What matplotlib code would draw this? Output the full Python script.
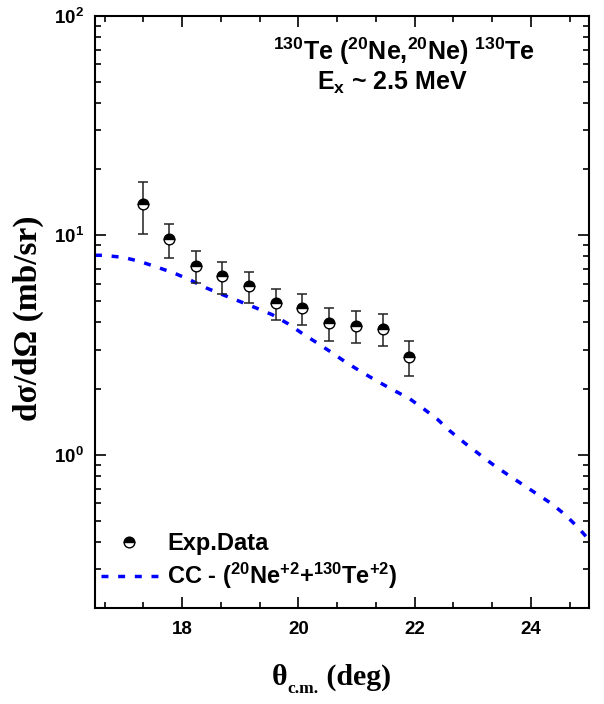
import matplotlib
matplotlib.use("Agg")
import matplotlib.pyplot as plt
from matplotlib.lines import Line2D
from matplotlib.ticker import MultipleLocator, FixedLocator, LogLocator, FuncFormatter, NullFormatter
import numpy as np

# ---------------- data ----------------
theta_exp = [17.32, 17.78, 18.23, 18.69, 19.15, 19.61, 20.07, 20.53, 20.99, 21.45, 21.90]
sigma_exp = [13.9, 9.62, 7.25, 6.49, 5.84, 4.89, 4.64, 3.99, 3.87, 3.74, 2.79]
sigma_hi = [17.5, 11.25, 8.46, 7.54, 6.77, 5.70, 5.39, 4.64, 4.51, 4.36, 3.31]
sigma_lo = [10.07, 7.88, 6.05, 5.41, 4.91, 4.09, 3.90, 3.31, 3.23, 3.12, 2.28]

theta_cc = [16.5, 16.65, 16.99, 17.27, 17.58, 17.86, 18.13, 18.42, 18.70, 18.99,
            19.27, 19.55, 19.82, 20.07, 20.32, 20.58, 20.83, 21.11, 21.37, 21.63,
            21.91, 22.15, 22.39, 22.61, 22.86, 23.10, 23.34, 23.59, 23.85, 24.11,
            24.35, 24.59, 24.81, 25.0]
sigma_cc = [8.1, 8.09, 7.92, 7.59, 7.13, 6.72, 6.26, 5.74, 5.35, 4.99,
            4.66, 4.34, 3.95, 3.56, 3.23, 2.91, 2.62, 2.36, 2.15, 1.97,
            1.80, 1.62, 1.45, 1.28, 1.13, 1.01, 0.904, 0.814, 0.733, 0.660,
            0.599, 0.532, 0.466, 0.409]

x_major = [18, 20, 22, 24]
y_major = [1, 10, 100]

label_exp = "Exp.Data"
label_cc = r"CC - ($^{20}$Ne$^{+2}$+$^{130}$Te$^{+2}$)"
title1 = r"$^{130}$Te ($^{20}$Ne,$^{20}$Ne) $^{130}$Te"
title2 = r"E$_{x}$ ~ 2.5 MeV"

# ---------------- style ----------------
plt.rcParams["font.family"] = ["Liberation Sans", "DejaVu Sans"]
plt.rcParams["font.weight"] = "bold"
plt.rcParams["mathtext.fontset"] = "custom"
plt.rcParams["mathtext.rm"] = "Liberation Sans:bold"
plt.rcParams["mathtext.it"] = "Liberation Sans:bold"
plt.rcParams["mathtext.bf"] = "Liberation Sans:bold"

W, H = 604, 704
fig = plt.figure(figsize=(W / 100, H / 100), dpi=100)
L, R, T, B = 95, 589, 15.7, 608
ax = fig.add_axes([L / W, 1 - B / H, (R - L) / W, (B - T) / H])

yerr = [np.array(sigma_exp) - np.array(sigma_lo), np.array(sigma_hi) - np.array(sigma_exp)]
ax.errorbar(theta_exp, sigma_exp, yerr=yerr, fmt="none", ecolor="#222222",
            elinewidth=1.1, capsize=3.3, capthick=1.1, zorder=3)
ax.plot(theta_exp, sigma_exp, ls="none", marker="o", ms=7.7, fillstyle="top",
        mfc="black", mfcalt="white", mec="black", mew=1.0, zorder=4)

ax.plot(theta_cc, sigma_cc, color="#0000ff", lw=2.5, dashes=(2.0, 2.8), zorder=2)

ax.set_yscale("log")
ax.set_xlim(16.5, 25.0)
ax.set_ylim(0.2, 100)

ax.xaxis.set_major_locator(FixedLocator(x_major))
ax.xaxis.set_minor_locator(MultipleLocator(2 / 3))
ax.yaxis.set_major_locator(FixedLocator(y_major))
ax.yaxis.set_minor_locator(LogLocator(base=10, subs=np.arange(2, 10)))
ax.yaxis.set_minor_formatter(NullFormatter())
ax.yaxis.set_major_formatter(FuncFormatter(lambda v, p: r"$10^{%d}$" % int(round(np.log10(v)))))
ax.xaxis.set_major_formatter(FuncFormatter(lambda v, p: "%d" % v))

ax.tick_params(which="both", direction="in", top=True, right=True, width=1.2)
ax.tick_params(which="major", length=8)
ax.tick_params(which="minor", length=4)
ax.tick_params(axis="x", labelsize=13.5, pad=9)
ax.tick_params(axis="y", labelsize=13.5, pad=8)
for lab in ax.get_xticklabels() + ax.get_yticklabels():
    lab.set_fontweight("bold")
for s in ax.spines.values():
    s.set_linewidth(1.5)

# annotations
ax.text(0.625, (B - 60) / (B - T), title1, transform=ax.transAxes, ha="center",
        va="baseline", fontsize=18, fontweight="bold")
ax.text(0.602, (B - 90) / (B - T), title2, transform=ax.transAxes, ha="center",
        va="baseline", fontsize=18, fontweight="bold")

# legend
h_exp = Line2D([], [], ls="none", marker="o", ms=7.7, fillstyle="top",
               mfc="black", mfcalt="white", mec="black", mew=1.0)
h_cc = Line2D([], [], color="#0000ff", lw=2.5, dashes=(2.0, 2.8))
leg = ax.legend([h_exp, h_cc], [label_exp, label_cc], loc="lower left",
                bbox_to_anchor=(-0.012, 0.008), frameon=False, fontsize=17,
                handlelength=2.4, handletextpad=0.4, borderaxespad=0.3,
                labelspacing=0.25, borderpad=0.2)
for t in leg.get_texts():
    t.set_fontweight("bold")

# y label
fig.text(28 / W, 1 - 318 / H, "dσ/dΩ (mb/sr)", rotation=90, ha="center", va="center",
         fontsize=24, fontweight="bold", family=["Liberation Serif", "DejaVu Serif"])

# x label: theta with c.m. subscript, then (deg)
fig.canvas.draw()
r = fig.canvas.get_renderer()
base_y = 1 - 685 / H
serif = ["Liberation Serif", "DejaVu Serif"]
t1 = fig.text(272 / W, base_y, "θ", ha="left", va="baseline", fontsize=21.5,
              fontweight="bold", family=serif)
bb1 = t1.get_window_extent(r)
t2 = fig.text(bb1.x1 / W, base_y - 8 / H, "c.m.", ha="left", va="baseline", fontsize=12.5,
              fontweight="bold", family=serif)
bb2 = t2.get_window_extent(r)
t3 = fig.text(bb2.x1 / W, base_y, " (deg)", ha="left", va="baseline", fontsize=21.5,
              fontweight="bold", family=serif)

fig.savefig("out.png", dpi=100)
